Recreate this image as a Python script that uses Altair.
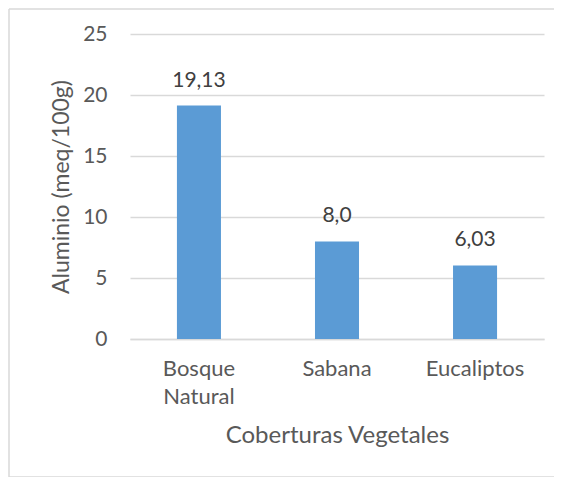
import altair as alt
import pandas as pd

categories = ["Bosque Natural", "Sabana", "Eucaliptos"]
values = [19.13, 8.0, 6.03]
value_labels = ["19,13", "8,0", "6,03"]

df = pd.DataFrame({"cat": categories, "val": values, "lab": value_labels})

FONT = "Lato"
TXT = "#595959"
GRID = "#d9d9d9"

x_enc = alt.X(
    "cat:N",
    sort=categories,
    title="Coberturas Vegetales",
    scale=alt.Scale(paddingInner=0.681, paddingOuter=0.34),
    axis=alt.Axis(
        labelAngle=0,
        labelExpr="datum.value == 'Bosque Natural' ? ['Bosque', 'Natural'] : datum.value",
        labelPadding=19,
        labelFontSize=22,
        labelColor=TXT,
        labelFont=FONT,
        labelLineHeight=28,
        ticks=False,
        domain=True,
        domainColor=GRID,
        domainWidth=1.5,
        titleFontSize=24,
        titleFont=FONT,
        titleColor=TXT,
        titleFontWeight="normal",
        titlePadding=16,
    ),
)

y_enc = alt.Y(
    "val:Q",
    title="Aluminio (meq/100g)",
    scale=alt.Scale(domain=[0, 25], nice=False),
    axis=alt.Axis(
        values=[0, 5, 10, 15, 20, 25],
        grid=True,
        gridColor=GRID,
        gridWidth=1.5,
        domain=False,
        ticks=False,
        labelPadding=23,
        labelFontSize=21,
        labelColor=TXT,
        labelFont=FONT,
        titleFontSize=23,
        titleFont=FONT,
        titleColor=TXT,
        titleFontWeight="normal",
        titlePadding=9,
    ),
)

bars = alt.Chart(df).mark_bar(color="#5B9BD5").encode(x=x_enc, y=y_enc)

labels = alt.Chart(df).mark_text(
    baseline="alphabetic", dy=-19, fontSize=21, font=FONT, color="#404040"
).encode(x=alt.X("cat:N", sort=categories), y="val:Q", text="lab:N")

one = pd.DataFrame({"a": [0]})
rule_style = dict(color=GRID, strokeWidth=1.5, clip=False)
left_border = alt.Chart(one).mark_rule(**rule_style).encode(
    x=alt.value(-121), y=alt.value(-25), y2=alt.value(443)
)
top_border = alt.Chart(one).mark_rule(**rule_style).encode(
    x=alt.value(-121), x2=alt.value(700), y=alt.value(-25)
)
bottom_border = alt.Chart(one).mark_rule(**rule_style).encode(
    x=alt.value(-121), x2=alt.value(700), y=alt.value(443)
)

chart = (
    alt.layer(left_border, top_border, bottom_border, bars, labels)
    .properties(
        width=414,
        height=305,
        autosize=alt.AutoSizeParams(type="none"),
        padding={"left": 122, "top": 26, "right": 10, "bottom": 138},
    )
    .configure_view(stroke=None)
)

chart.save("out.html", embed_options={"renderer": "svg", "actions": False})
